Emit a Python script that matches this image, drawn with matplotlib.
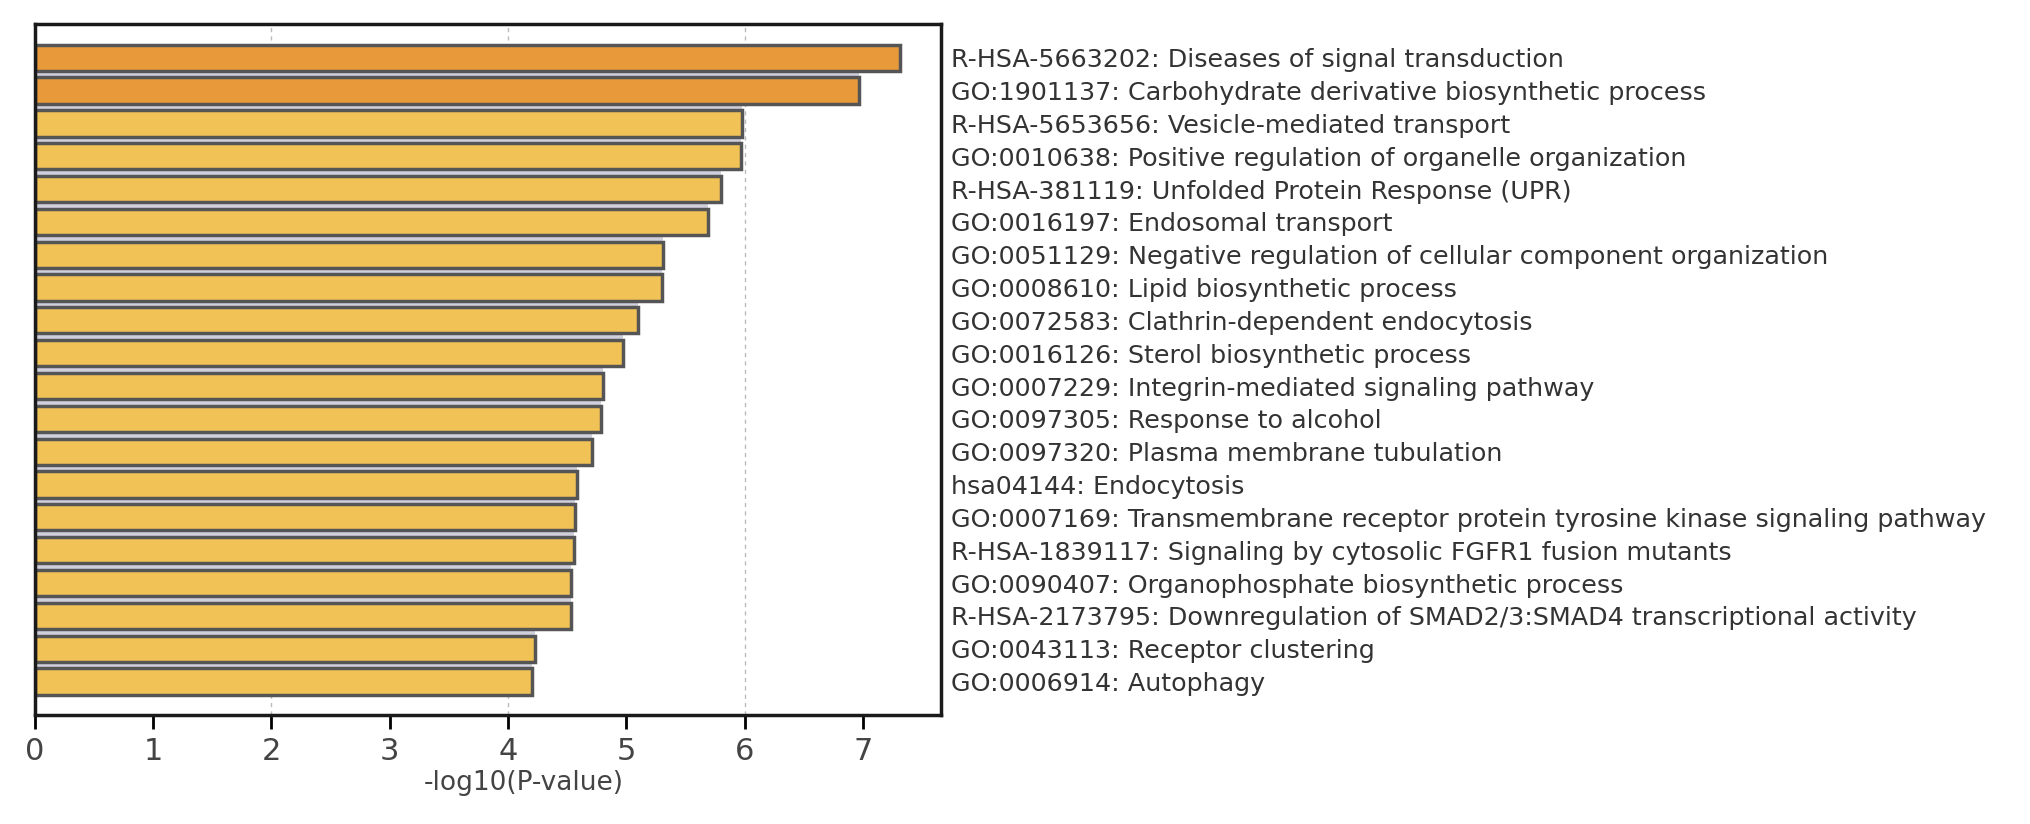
import numpy as np
import matplotlib.pyplot as plt

terms = [
    "R-HSA-5663202: Diseases of signal transduction",
    "GO:1901137: Carbohydrate derivative biosynthetic process",
    "R-HSA-5653656: Vesicle-mediated transport",
    "GO:0010638: Positive regulation of organelle organization",
    "R-HSA-381119: Unfolded Protein Response (UPR)",
    "GO:0016197: Endosomal transport",
    "GO:0051129: Negative regulation of cellular component organization",
    "GO:0008610: Lipid biosynthetic process",
    "GO:0072583: Clathrin-dependent endocytosis",
    "GO:0016126: Sterol biosynthetic process",
    "GO:0007229: Integrin-mediated signaling pathway",
    "GO:0097305: Response to alcohol",
    "GO:0097320: Plasma membrane tubulation",
    "hsa04144: Endocytosis",
    "GO:0007169: Transmembrane receptor protein tyrosine kinase signaling pathway",
    "R-HSA-1839117: Signaling by cytosolic FGFR1 fusion mutants",
    "GO:0090407: Organophosphate biosynthetic process",
    "R-HSA-2173795: Downregulation of SMAD2/3:SMAD4 transcriptional activity",
    "GO:0043113: Receptor clustering",
    "GO:0006914: Autophagy",
]
logp = [7.31, 6.97, 5.98, 5.97, 5.80, 5.69, 5.31, 5.30, 5.10, 4.97,
        4.80, 4.79, 4.71, 4.58, 4.57, 4.56, 4.53, 4.53, 4.23, 4.20]
xticks = [0, 1, 2, 3, 4, 5, 6, 7]
grid_at = [2, 4, 6]

def bar_color(v):
    # strongest terms in darker orange
    return '#E8993A' if v > 6.5 else '#F1C256'

fig = plt.figure(figsize=(20.31, 8.24), dpi=100)
ax = fig.add_axes([0.0172, 0.1323, 0.4461, 0.8391])

y = np.arange(len(terms))
vals = np.array(logp)

# light band between neighbouring bars
gap = np.minimum(vals[:-1], vals[1:])
ax.barh(y[:-1] + 0.5, gap, height=0.22, color='#cfd0dc', zorder=1)

ax.barh(y, vals, height=0.8, color=[bar_color(v) for v in vals],
        edgecolor='#555555', linewidth=2.5, zorder=2)

for g in grid_at:
    ax.axvline(g, color='#bbbbbb', linestyle=(0, (3, 3)), linewidth=1, zorder=0)

ax.set_xlim(0, 7.66)
ax.set_ylim(len(terms) - 1 + 1.02, -1.04)
ax.set_xticks(xticks)
ax.tick_params(axis='x', direction='out', length=10, width=2, labelsize=22,
               labelcolor='#444444', pad=6)

ax.yaxis.tick_right()
ax.set_yticks(y)
ax.set_yticklabels(terms, fontsize=18.3, color='#333333')
ax.tick_params(axis='y', length=0, pad=7)

for s in ax.spines.values():
    s.set_linewidth(2.5)
    s.set_color('#1a1a1a')

ax.set_xlabel('-log10(P-value)', fontsize=19, color='#444444')
ax.xaxis.set_label_coords(0.54, -0.08)

fig.savefig('out.png', dpi=100)
